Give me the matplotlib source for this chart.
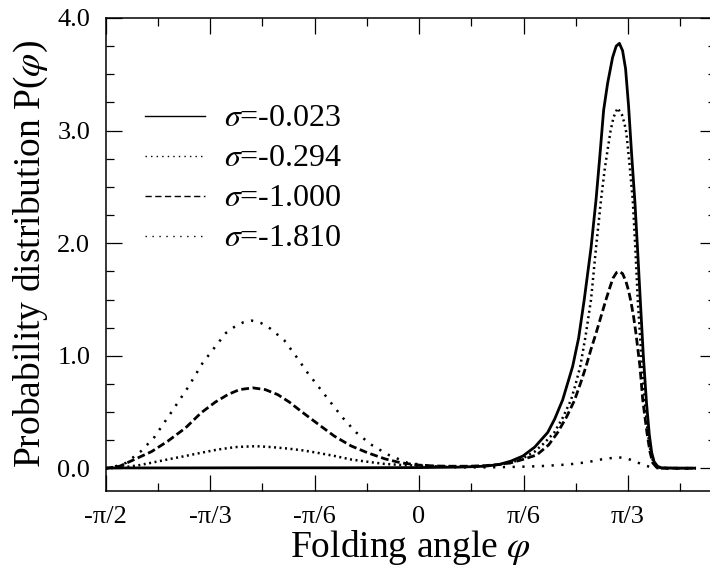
import numpy as np
import matplotlib
matplotlib.use("Agg")
import matplotlib.pyplot as plt
from matplotlib.ticker import FixedLocator, MultipleLocator

plt.rcParams['font.family'] = ['Liberation Serif', 'DejaVu Serif']
plt.rcParams['mathtext.fontset'] = 'stix'

# ---------------- data ----------------
labels = ["$\\sigma$=-0.023", "$\\sigma$=-0.294", "$\\sigma$=-1.000", "$\\sigma$=-1.810"]

phi_a = [-1.5708, -1.2, -0.8, -0.4, 0.0, 0.2, 0.33, 0.40, 0.46, 0.52, 0.58, 0.645, 0.68, 0.72,
         0.77, 0.80, 0.828, 0.862, 0.887, 0.905, 0.925, 0.945, 0.970, 0.988, 1.004, 1.020,
         1.035, 1.050, 1.065, 1.082, 1.095, 1.108, 1.124, 1.140, 1.154, 1.166, 1.178, 1.195,
         1.215, 1.30, 1.388]
p_a = [0.005, 0.005, 0.006, 0.006, 0.008, 0.012, 0.02, 0.035, 0.065, 0.11, 0.19, 0.32, 0.44, 0.61,
       0.907, 1.16, 1.50, 1.96, 2.386, 2.75, 3.18, 3.42, 3.65, 3.75, 3.775, 3.71,
       3.55, 3.22, 2.80, 2.36, 1.95, 1.52, 1.00, 0.58, 0.30, 0.14, 0.06, 0.02,
       0.005, 0.003, 0.003]

phi_b = [-1.5708, -1.48, -1.40, -1.343, -1.26, -1.176, -1.09, -1.009, -0.92, -0.817, -0.74,
         -0.658, -0.58, -0.508, -0.42, -0.341, -0.26, -0.174, -0.08, 0.0, 0.1, 0.2, 0.3, 0.38,
         0.46, 0.52, 0.58, 0.63, 0.678, 0.72, 0.762, 0.785, 0.808, 0.835, 0.862, 0.887, 0.912,
         0.930, 0.945, 0.960, 0.975, 0.995, 1.017, 1.030, 1.039, 1.055, 1.071, 1.084, 1.096,
         1.117, 1.132, 1.146, 1.160, 1.172, 1.19, 1.21, 1.30, 1.388]
p_b = [0.0, 0.01, 0.03, 0.05, 0.08, 0.109, 0.14, 0.168, 0.19, 0.198, 0.19,
       0.177, 0.16, 0.139, 0.11, 0.08, 0.06, 0.041, 0.03, 0.025, 0.02, 0.018, 0.02, 0.03,
       0.05, 0.09, 0.15, 0.23, 0.32, 0.45, 0.61, 0.75, 0.907, 1.18, 1.50, 1.96, 2.386,
       2.65, 2.83, 3.00, 3.12, 3.20, 3.14, 3.06, 2.98, 2.70, 2.386, 1.96, 1.50,
       0.907, 0.58, 0.32, 0.15, 0.07, 0.02, 0.005, 0.003, 0.003]

phi_c = [-1.5708, -1.50, -1.426, -1.34, -1.259, -1.17, -1.092, -1.02, -0.958, -0.90, -0.833,
         -0.77, -0.708, -0.65, -0.591, -0.51, -0.424, -0.34, -0.257, -0.17, -0.090, 0.0, 0.08,
         0.16, 0.25, 0.33, 0.40, 0.46, 0.52, 0.59, 0.65, 0.695, 0.74, 0.778, 0.81, 0.837,
         0.862, 0.887, 0.912, 0.937, 0.955, 0.972, 0.99, 1.004, 1.020, 1.037, 1.050, 1.062,
         1.075, 1.087, 1.107, 1.121, 1.142, 1.157, 1.171, 1.19, 1.21, 1.30, 1.388]
p_c = [0.0, 0.02, 0.08, 0.15, 0.242, 0.36, 0.494, 0.59, 0.656, 0.70, 0.716,
       0.70, 0.656, 0.59, 0.508, 0.40, 0.287, 0.20, 0.139, 0.085, 0.050, 0.03, 0.022,
       0.02, 0.02, 0.025, 0.035, 0.05, 0.08, 0.12, 0.21, 0.32, 0.46, 0.60, 0.76, 0.907,
       1.06, 1.20, 1.35, 1.50, 1.60, 1.69, 1.74, 1.75, 1.73, 1.66, 1.58, 1.48,
       1.35, 1.20, 0.907, 0.61, 0.32, 0.15, 0.05, 0.01, 0.003, 0.002, 0.002]

phi_d = [-1.5708, -1.52, -1.468, -1.393, -1.326, -1.243, -1.159, -1.084, -1.026, -0.967, -0.925,
         -0.880, -0.838, -0.792, -0.745, -0.675, -0.616, -0.558, -0.499, -0.441, -0.382,
         -0.316, -0.241, -0.157, -0.057, 0.07, 0.2, 0.35, 0.50, 0.6, 0.745, 0.845, 0.912,
         0.995, 1.04, 1.079, 1.12, 1.146, 1.17, 1.25, 1.388]
p_d = [0.0, 0.02, 0.05, 0.153, 0.278, 0.494, 0.716, 0.937, 1.07, 1.204, 1.257,
       1.298, 1.313, 1.292, 1.242, 1.138, 0.996, 0.849, 0.716, 0.583, 0.45,
       0.322, 0.213, 0.124, 0.05, 0.02, 0.01, 0.01, 0.015, 0.02, 0.035, 0.056, 0.08,
       0.10, 0.09, 0.065, 0.035, 0.02, 0.005, 0.0, 0.0]

xtick_vals = [-np.pi / 2, -np.pi / 3, -np.pi / 6, 0.0, np.pi / 6, np.pi / 3]
xtick_labels = ["-π/2", "-π/3", "-π/6", "0", "π/6", "π/3"]
ytick_vals = [0.0, 1.0, 2.0, 3.0, 4.0]
ytick_labels = ["0.0", "1.0", "2.0", "3.0", "4.0"]

# ---------------- figure ----------------
W, H = 710, 571
fig = plt.figure(figsize=(W / 100, H / 100), dpi=100)
ax = fig.add_axes([105.5 / W, 80 / H, 610.5 / W, 473 / H])

lw = 2.0
styles = [
    dict(linestyle='-', lw=lw),
    dict(linestyle=(0, (0.8, 1.4)), lw=1.8),
    dict(linestyle=(0, (2.8, 1.3)), lw=lw),
    dict(linestyle=(0, (0.9, 3.0)), lw=1.8),
]
series = [(phi_a, p_a), (phi_b, p_b), (phi_c, p_c), (phi_d, p_d)]
for (xs, ys), st in zip(series, styles):
    ax.plot(xs, ys, color='black', solid_capstyle='butt', **st)

ax.set_xlim(-np.pi / 2, -np.pi / 2 + 610.5 / 104.5 * np.pi / 6)
ax.set_ylim(-0.2, 4.0)

ax.xaxis.set_major_locator(FixedLocator(xtick_vals + [np.pi / 2]))
ax.set_xticks(xtick_vals)
ax.set_xticklabels(xtick_labels)
ax.xaxis.set_minor_locator(MultipleLocator(np.pi / 12))
ax.set_yticks(ytick_vals)
ax.set_yticklabels(ytick_labels)
ax.yaxis.set_minor_locator(MultipleLocator(0.25))

ax.tick_params(which='both', direction='in', top=True, right=True, width=0.9)
ax.tick_params(which='major', length=11.5)
ax.tick_params(which='minor', length=5.8)
ax.tick_params(axis='x', which='major', labelsize=19, pad=11)
ax.tick_params(axis='y', which='major', labelsize=19, pad=11)
for sp in ax.spines.values():
    sp.set_linewidth(1.1)

ax.set_xlabel("Folding angle $\\varphi$", fontsize=27, labelpad=0)
ax.set_ylabel("Probability distribution P($\\varphi$)", fontsize=27, labelpad=5)

# legend (drawn manually, thin lines as in the original)
leg_styles = [
    dict(linestyle='-', lw=1.0),
    dict(linestyle=(0, (1, 3)), lw=1.0),
    dict(linestyle=(0, (4.5, 2.5)), lw=1.0),
    dict(linestyle=(0, (1, 4)), lw=1.0),
]
row_px = [116, 156, 196, 236]
for lab, st, ypx in zip(labels, leg_styles, row_px):
    yf = (491 - ypx) / 473
    ax.plot([(145 - 105.5) / 610.5, (205 - 105.5) / 610.5], [yf, yf],
            transform=ax.transAxes, color='black', **st)
    ax.text((224 - 105.5) / 610.5, (491 - ypx - 10.5) / 473, lab, transform=ax.transAxes,
            fontsize=23, ha='left', va='baseline')

fig.savefig("out.png", dpi=100)
